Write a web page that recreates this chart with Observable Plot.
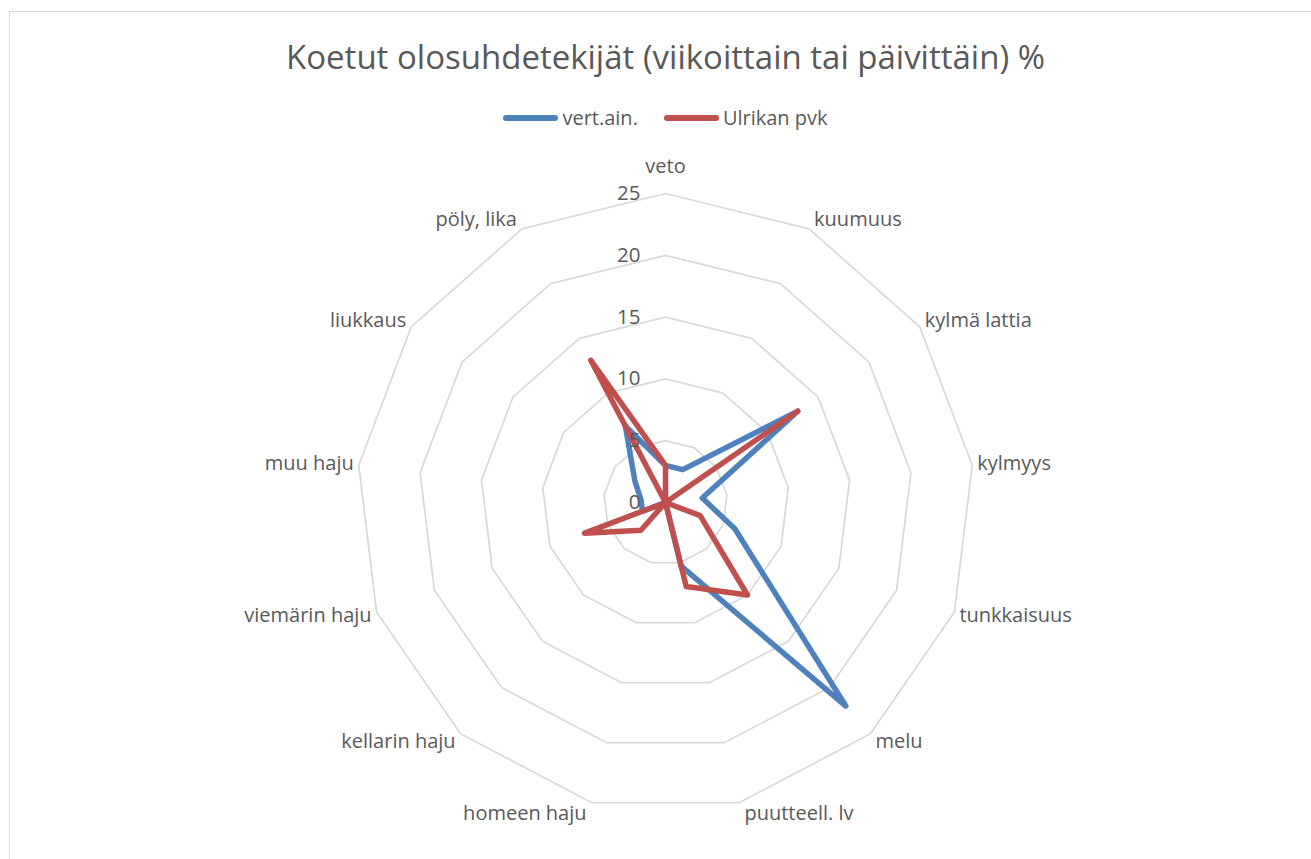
<!DOCTYPE html>
<html><head><meta charset="utf-8">
<script src="https://cdn.jsdelivr.net/npm/d3@7"></script>
<script src="https://cdn.jsdelivr.net/npm/@observablehq/plot@0.6"></script>
<style>
body{margin:0;background:#fff;font-family:"Open Sans",sans-serif;overflow:hidden;}
#frame{position:absolute;left:9px;top:11px;width:1400px;height:900px;border-left:1.5px solid #d9d9d9;border-top:1.5px solid #d9d9d9;}
#title{position:absolute;top:35px;left:10px;width:1311px;text-align:center;font-size:33px;color:#595959;line-height:44px;white-space:nowrap;}
#legend{position:absolute;top:104px;left:10px;width:1311px;display:flex;justify-content:center;align-items:center;font-size:20px;color:#595959;line-height:28px;}
.item{display:flex;align-items:center;margin:0 13px;}
.sw{width:55px;height:5.5px;border-radius:3px;margin-right:4px;}
#chart{position:absolute;left:0;top:130px;}
</style></head>
<body>
<div id="frame"></div>
<div id="title">Koetut olosuhdetekijät (viikoittain tai päivittäin) %</div>
<div id="legend"></div>
<div id="chart"></div>
<script>
const categories = ["veto","kuumuus","kylmä lattia","kylmyys","tunkkaisuus","melu","puutteell. lv","homeen haju","kellarin haju","viemärin haju","muu haju","liukkaus","pöly, lika"];
const seriesNames = ["vert.ain.","Ulrikan pvk"];
const vertAin = [3, 3, 13, 3, 6, 22, 5.3, 0, 0, 2, 2, 3, 7];
const ulrikanPvk = [3, 0, 13, 0, 3, 10, 7, 0, 3, 7, 0, 0, 13];
const ringValues = [5, 10, 15, 20, 25];
const tickValues = [0, 5, 10, 15, 20, 25];
const colors = ["#4f81bd", "#c0504d"];

const W = 1311, H = 729, cx = 665, cy = 372, R = 25, k = 309 / 25;
const n = categories.length;
const ang = i => 2 * Math.PI * i / n;
const px = (v, i) => v * Math.sin(ang(i));
const py = (v, i) => v * Math.cos(ang(i));

// legend
const leg = document.getElementById("legend");
seriesNames.forEach((s, j) => {
  const it = document.createElement("div"); it.className = "item";
  const sw = document.createElement("div"); sw.className = "sw"; sw.style.background = colors[j];
  const tx = document.createElement("span"); tx.textContent = s;
  it.appendChild(sw); it.appendChild(tx); leg.appendChild(it);
});

const rings = [];
ringValues.forEach(v => { for (let i = 0; i <= n; i++) rings.push({v, x: px(v, i % n), y: py(v, i % n)}); });

const lines = [];
[vertAin, ulrikanPvk].forEach((vals, j) => {
  for (let i = 0; i <= n; i++) lines.push({s: seriesNames[j], x: px(vals[i % n], i % n), y: py(vals[i % n], i % n)});
});

const labels = categories.map((c, i) => {
  const s = Math.sin(ang(i)), co = Math.cos(ang(i));
  const mid = Math.abs(s) < 0.1;
  const anchor = mid ? "middle" : (s > 0 ? "start" : "end");
  const offX = mid ? 0 : Math.sign(s) * 5 / k;
  const offY = mid ? 27 / k * Math.sign(co) : co * 11 / k;
  return {c, x: R * s + offX, y: R * co + offY, anchor};
});

const chart = Plot.plot({
  width: W, height: H, margin: 0,
  x: {domain: [-cx / k, (W - cx) / k], range: [0, W], axis: null},
  y: {domain: [(cy - H) / k, cy / k], range: [H, 0], axis: null},
  style: {fontFamily: "Open Sans, sans-serif", background: "transparent"},
  marks: [
    Plot.line(rings, {x: "x", y: "y", z: "v", stroke: "#d9d9d9", strokeWidth: 1.75}),
    Plot.line(lines, {x: "x", y: "y", z: "s", stroke: "s", strokeWidth: 5.5, strokeLinejoin: "round", strokeLinecap: "round"}),
    Plot.text(tickValues, {x: 0, y: d => d, text: d => String(d), textAnchor: "end", dx: -25, fontSize: 20.5, fill: "#595959"}),
    ...["start", "middle", "end"].map(a => Plot.text(labels.filter(l => l.anchor === a), {x: "x", y: "y", text: "c", textAnchor: a, fontSize: 20, fill: "#595959"}))
  ],
  color: {domain: seriesNames, range: colors}
});
document.getElementById("chart").appendChild(chart);
</script>
</body></html>
